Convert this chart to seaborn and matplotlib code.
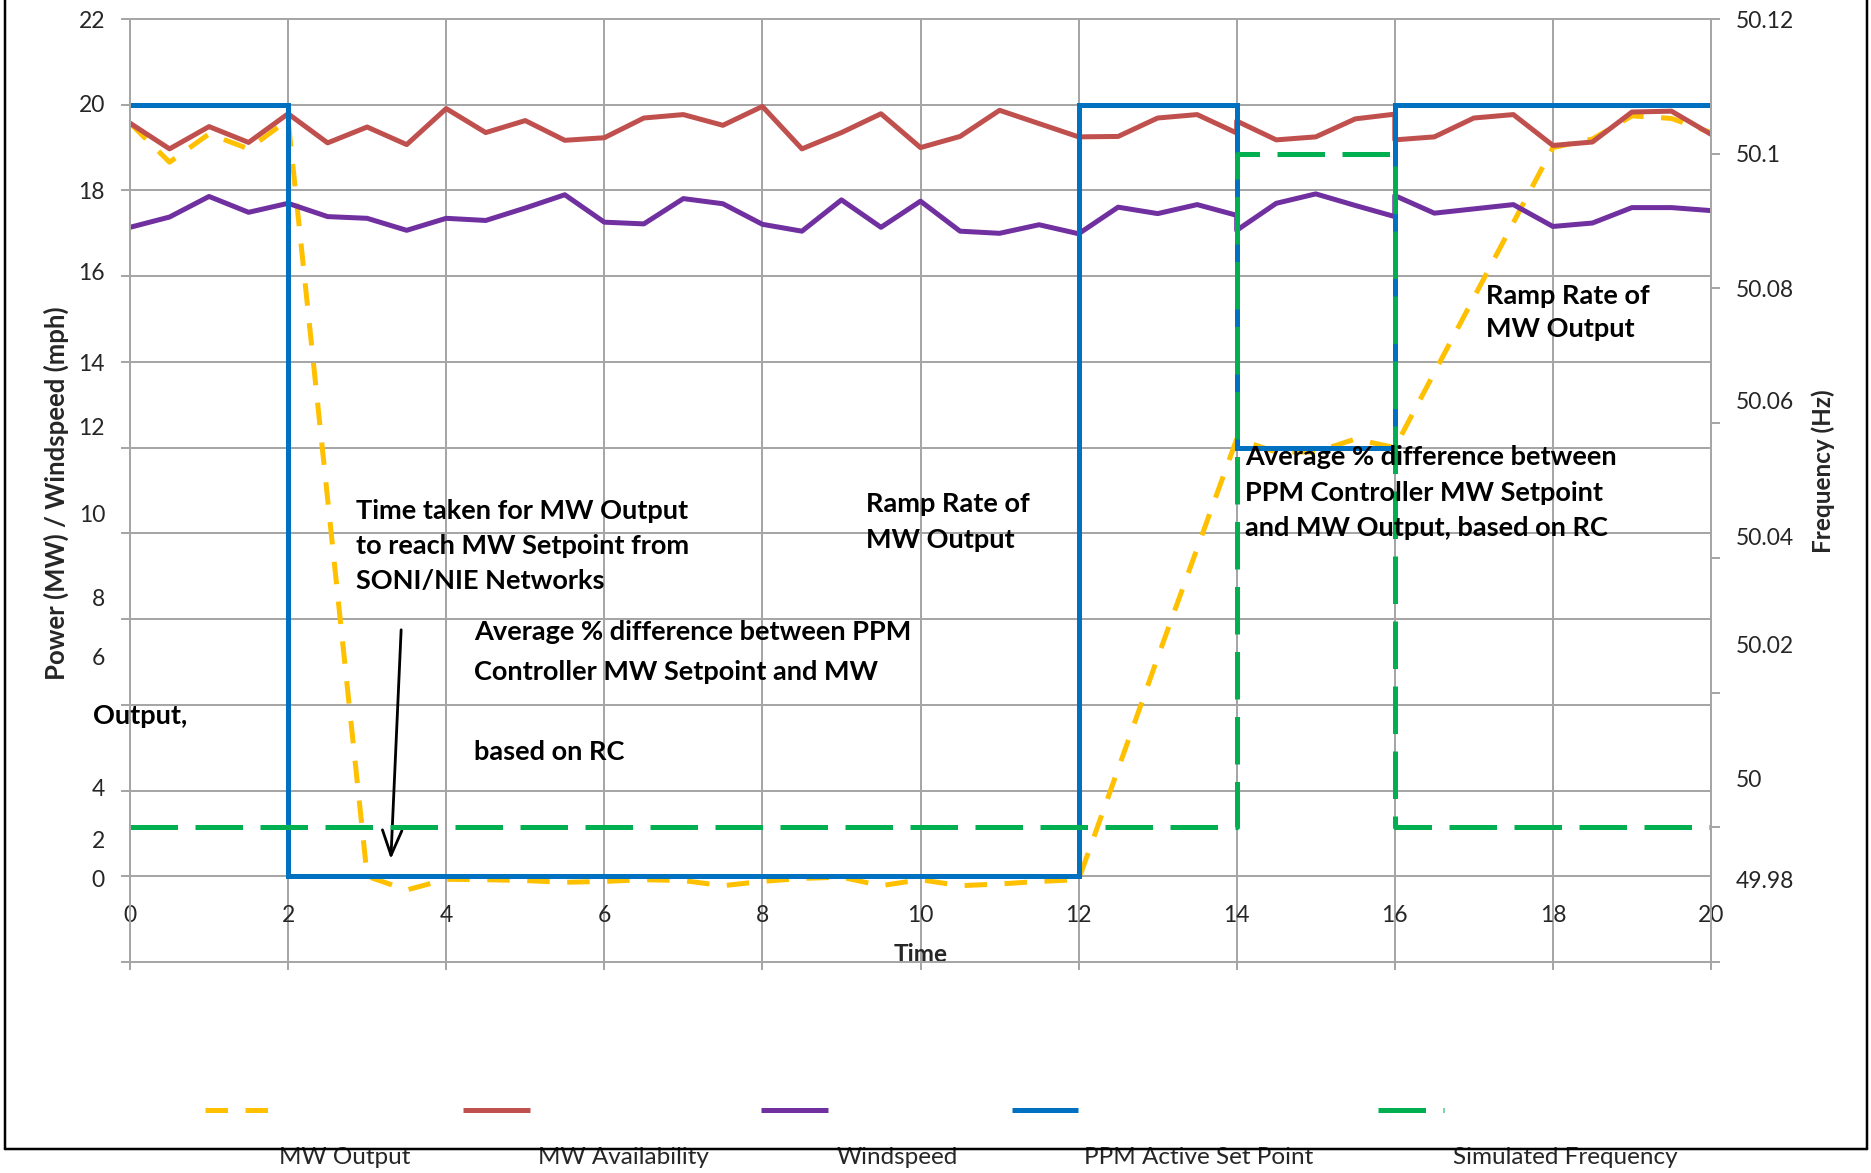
import numpy as np
import pandas as pd
import matplotlib
matplotlib.use("Agg")
import matplotlib.pyplot as plt
from matplotlib.lines import Line2D
import seaborn as sns

# ---------------- data ----------------
time = [0, 0.5, 1, 1.5, 2, 2.5, 3, 3.5, 4, 4.5, 5, 5.5, 6, 6.5, 7, 7.5, 8, 8.5, 9, 9.5,
        10, 10.5, 11, 11.5, 12, 12.5, 13, 13.5, 14, 14, 14.5, 15, 15.5, 16, 16, 16.5,
        17, 17.5, 18, 18.5, 19, 19.5, 20]
mw_output = [19.57, 18.66, 19.32, 18.97, 19.65, 10.8, 2.0, 1.68, 1.93, 1.92, 1.9, 1.86,
             1.88, 1.92, 1.9, 1.78, 1.88, 1.95, 1.98, 1.78, 1.92, 1.78, 1.82, 1.88, 1.92,
             4.5, 7.1, 9.65, 12.2, 12.2, 11.9, 11.9, 12.2, 12.0, 12.0, 13.75, 15.5, 17.25,
             19.0, 19.2, 19.74, 19.68, 19.35]
mw_availability = [19.57, 18.97, 19.49, 19.12, 19.79, 19.11, 19.48, 19.07, 19.91, 19.35,
                   19.63, 19.17, 19.23, 19.69, 19.77, 19.52, 19.96, 18.97, 19.35, 19.79,
                   19.0, 19.26, 19.87, 19.56, 19.25, 19.26, 19.69, 19.77, 19.34, 19.62,
                   19.18, 19.25, 19.67, 19.78, 19.18, 19.25, 19.69, 19.77, 19.05, 19.13,
                   19.83, 19.85, 19.31]
windspeed = [17.14, 17.38, 17.86, 17.49, 17.70, 17.39, 17.35, 17.07, 17.35, 17.30, 17.59,
             17.90, 17.26, 17.22, 17.81, 17.69, 17.21, 17.05, 17.78, 17.14, 17.75, 17.05,
             17.0, 17.2, 16.99, 17.61, 17.46, 17.67, 17.42, 17.07, 17.70, 17.92, 17.65,
             17.39, 17.88, 17.47, 17.57, 17.67, 17.16, 17.24, 17.6, 17.6, 17.53]
ppm_time = [0, 2, 2, 12, 12, 14, 14, 16, 16, 20]
ppm_setpoint = [20, 20, 2, 2, 20, 20, 12, 12, 20, 20]
freq_time = [0, 14, 14, 16, 16, 20]
sim_frequency = [50.0, 50.0, 50.1, 50.1, 50.0, 50.0]

x_ticks = list(range(0, 21, 2))
left_tick_labels = ['22', '20', '18', '16', '14', '12', '10', '8', '6', '4', '2', '0']
left_label_pos = [22.0, 20.02, 18.0, 16.1, 13.98, 12.5, 10.47, 8.51, 7.12, 4.08, 2.85, 1.94]
right_tick_labels = ['50.12', '50.1', '50.08', '50.06', '50.04', '50.02', '50', '49.98']
right_label_pos = [50.12, 50.10, 50.08, 50.0633, 50.0432, 50.0271, 50.0072, 49.9923]
legend_names = ['MW Output', 'MW Availability', 'Windspeed', 'PPM Active Set Point',
                'Simulated Frequency']

# ---------------- style ----------------
sns.set_style("white")
plt.rcParams['font.family'] = ['Lato', 'DejaVu Sans']

W, H = 1871, 1173
DPI = 100
PX = 72.0 / DPI  # points per pixel
GRID = '#a6a6a6'
C_Y, C_R, C_P, C_B, C_G = '#FFC000', '#C0504D', '#7030A0', '#0070C0', '#00B050'
LW = 5.0 * PX
YDASH = (0, (4.5, 3.5))
GDASH = (0, (9.5, 3.5))
TICK_FS = 16.5

fig = plt.figure(figsize=(W / DPI, H / DPI), dpi=DPI)
fig.patch.set_facecolor('white')
L, R, T, B = 130, 1711, 19, 962
ax = fig.add_axes([L / W, 1 - B / H, (R - L) / W, (B - T) / H])
ax.set_facecolor('white')

df = pd.DataFrame({'time': time, 'out': mw_output, 'avail': mw_availability, 'wind': windspeed})
dppm = pd.DataFrame({'time': ppm_time, 'ppm': ppm_setpoint})
dfr = pd.DataFrame({'time': freq_time, 'freq': sim_frequency})

common = dict(estimator=None, sort=False, legend=False)
sns.lineplot(data=df, x='time', y='out', ax=ax, color=C_Y, lw=LW, linestyle=YDASH,
             dash_capstyle='butt', **common)
sns.lineplot(data=df, x='time', y='avail', ax=ax, color=C_R, lw=LW,
             solid_joinstyle='round', **common)
sns.lineplot(data=df, x='time', y='wind', ax=ax, color=C_P, lw=LW,
             solid_joinstyle='round', **common)
sns.lineplot(data=dppm, x='time', y='ppm', ax=ax, color=C_B, lw=LW,
             solid_joinstyle='miter', **common)

ax.set_xlim(0, 20)
ax.set_ylim(0, 22)

ax2 = ax.twinx()
sns.lineplot(data=dfr, x='time', y='freq', ax=ax2, color=C_G, lw=LW, linestyle=GDASH,
             dash_capstyle='butt', **common)
ax2.set_ylim(49.98, 50.12)
ax2.set_xlim(0, 20)

# ---- axes / ticks ----
for a in (ax, ax2):
    for s in a.spines.values():
        s.set_color(GRID)
        s.set_linewidth(2 * PX)

ax.set_xticks(x_ticks)
ax.set_xticklabels([str(v) for v in x_ticks])
ax.tick_params(axis='x', which='major', direction='out', length=8 * PX, width=2 * PX,
               color=GRID, pad=-65 * PX, labelsize=TICK_FS)
ax.xaxis.set_ticks_position('bottom')

ax.yaxis.remove_overlapping_locs = False
ax.set_yticks(left_label_pos)
ax.set_yticklabels(left_tick_labels)
ax.set_yticks(list(range(0, 23, 2)), minor=True)
ax.tick_params(axis='y', which='major', length=0, pad=25 * PX, labelsize=TICK_FS)
ax.tick_params(axis='y', which='minor', direction='out', length=9 * PX, width=2 * PX,
               color=GRID, left=True)
ax.yaxis.set_ticks_position('left')
ax.grid(False)
ax.grid(True, which='minor', axis='y', color=GRID, lw=2 * PX)
ax.grid(True, which='major', axis='x', color=GRID, lw=2 * PX)
ax.set_axisbelow(True)

ax2.yaxis.remove_overlapping_locs = False
ax2.set_yticks(right_label_pos)
ax2.set_yticklabels(right_tick_labels)
ax2.set_yticks(list(np.round(np.arange(49.98, 50.1201, 0.02), 2)), minor=True)
ax2.tick_params(axis='y', which='major', length=0, pad=25 * PX, labelsize=TICK_FS)
ax2.tick_params(axis='y', which='minor', direction='out', length=9 * PX, width=2 * PX,
                color=GRID, right=True)
ax2.grid(False)

ax.set_xlabel('Time', fontsize=17.5, fontweight='bold', va='center')
ax.xaxis.set_label_coords(0.5, (B - 955) / (B - T))
ax.set_ylabel('Power (MW) / Windspeed (mph)', fontsize=18.5, fontweight='bold', va='center')
ax.yaxis.set_label_coords((56 - L) / (R - L), (B - 493) / (B - T))
ax2.set_ylabel('Frequency (Hz)', fontsize=17.5, fontweight='bold', va='center', rotation=90)
ax2.yaxis.set_label_coords((1823 - L) / (R - L), (B - 471) / (B - T))


def fx(x):
    return x / W


def fy(y):
    return 1 - y / H


# ---- annotations ----
ANN = 19.5
notes = [
    (356, 511, 'Time taken for MW Output'),
    (356, 546, 'to reach MW Setpoint from'),
    (356, 581, 'SONI/NIE Networks'),
    (474, 632, 'Average % difference between PPM'),
    (474, 672, 'Controller MW Setpoint and MW'),
    (474, 752, 'based on RC'),
    (93, 716, 'Output,'),
    (866, 504, 'Ramp Rate of'),
    (866, 540, 'MW Output'),
    (1486, 296, 'Ramp Rate of'),
    (1486, 329, 'MW Output'),
    (1245, 457, 'Average % difference between'),
    (1245, 493, 'PPM Controller MW Setpoint'),
    (1245, 528, 'and MW Output, based on RC'),
]
for x, y, s in notes:
    fig.text(fx(x), fy(y), s, ha='left', va='center', fontsize=ANN, fontweight='bold',
             color='black', zorder=10)

arrow_start = (3.43, 7.75)
arrow_end = (3.30, 2.40)
ax.annotate('', xy=arrow_end, xytext=arrow_start,
            arrowprops=dict(arrowstyle='->,head_length=0.9,head_width=0.35',
                            lw=2.8 * PX, color='black', mutation_scale=20,
                            shrinkA=0, shrinkB=0), zorder=10)

# ---- legend (manual, as in reference) ----
leg_y = 1110
samples = [(205, 268, C_Y, YDASH), (463, 530, C_R, '-'), (761, 828, C_P, '-'),
           (1012, 1078, C_B, '-'), (1378, 1444, C_G, GDASH)]
label_x = [345, 623, 897, 1199, 1565]
for (x0, x1, c, ls), lx, name in zip(samples, label_x, legend_names):
    fig.add_artist(Line2D([fx(x0), fx(x1)], [fy(leg_y), fy(leg_y)],
                          transform=fig.transFigure, color=c, lw=LW, linestyle=ls,
                          solid_capstyle='butt', dash_capstyle='butt'))
    fig.text(fx(lx), fy(1158), name, ha='center', va='center', fontsize=17.5)

# ---- outer border ----
BK = 2.5 * PX
fig.add_artist(Line2D([fx(5), fx(5)], [fy(0), fy(1149)], transform=fig.transFigure,
                      color='black', lw=BK, zorder=20))
fig.add_artist(Line2D([fx(5), fx(1867)], [fy(1149), fy(1149)], transform=fig.transFigure,
                      color='black', lw=BK, zorder=20))
fig.add_artist(Line2D([fx(1867), fx(1867)], [fy(0), fy(1149)], transform=fig.transFigure,
                      color='black', lw=BK, zorder=20))

fig.savefig('out.png', dpi=DPI)
